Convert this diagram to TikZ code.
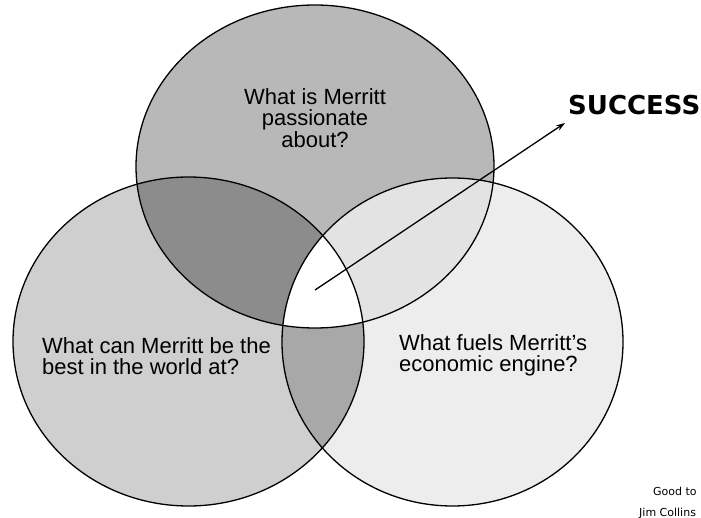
\documentclass[tikz,border=0pt]{standalone}
\usepackage{fontspec}
\setmainfont{Liberation Sans}
\newfontfamily\dejavu{DejaVu Sans}
\usetikzlibrary{arrows.meta}
\definecolor{cTop}{gray}{0.72}
\definecolor{cLeft}{gray}{0.81}
\definecolor{cRight}{gray}{0.93}
\definecolor{cTL}{gray}{0.55}
\definecolor{cTR}{gray}{0.89}
\definecolor{cLR}{gray}{0.66}
\tikzset{
  ring/.style={draw=black, line width=1.3pt},
  question/.style={inner sep=0pt, font=\fontsize{22}{21.5}\selectfont, text=black},
  pointer/.style={draw=black, line width=1.3pt, -{Stealth[length=9pt,width=6pt]}},
  credit/.style={inner sep=0pt, anchor=base west, font=\dejavu\fontsize{11}{11}\selectfont}
}
\begin{document}
\begin{tikzpicture}[x=1pt,y=-1pt]
\useasboundingbox (0,0) rectangle (701,518);
\def\pTop{(315,166.5) ellipse [x radius=179, y radius=161.5]}
\def\pLeft{(188.5,341.5) ellipse [x radius=175.5, y radius=164.5]}
\def\pRight{(452.5,342) ellipse [x radius=170.5, y radius=164]}
% region fills
\fill[cTop] \pTop;
\fill[cLeft] \pLeft;
\fill[cRight] \pRight;
\begin{scope}
  \clip \pTop;
  \fill[cTL] \pLeft;
  \fill[cTR] \pRight;
\end{scope}
\begin{scope}
  \clip \pLeft;
  \fill[cLR] \pRight;
  \clip \pTop;
  \fill[white] \pRight;
\end{scope}
% outlines
\draw[ring] \pTop;
\draw[ring] \pLeft;
\draw[ring] \pRight;
% texts
\node[question, align=center, anchor=north] (passion) at (315,88)
  {What is Merritt\\passionate\\about?};
\node[question, align=left, anchor=north west] (best) at (42,337)
  {What can Merritt be the\\best in the world at?};
\node[question, align=left, anchor=north west] (engine) at (399,334)
  {What fuels Merritt's\\economic engine?};
\node[inner sep=0pt, anchor=base west, font=\dejavu\bfseries\fontsize{26}{26}\selectfont] (success) at (568,115) {SUCCESS};
\node[credit] (book) at (653,495) {Good to};
\node[credit] (author) at (639,516) {Jim Collins};
% arrow
\coordinate (core) at (315,290);
\coordinate (tip) at (565,123);
\draw[pointer] (core) -- (tip);
\end{tikzpicture}
\end{document}
